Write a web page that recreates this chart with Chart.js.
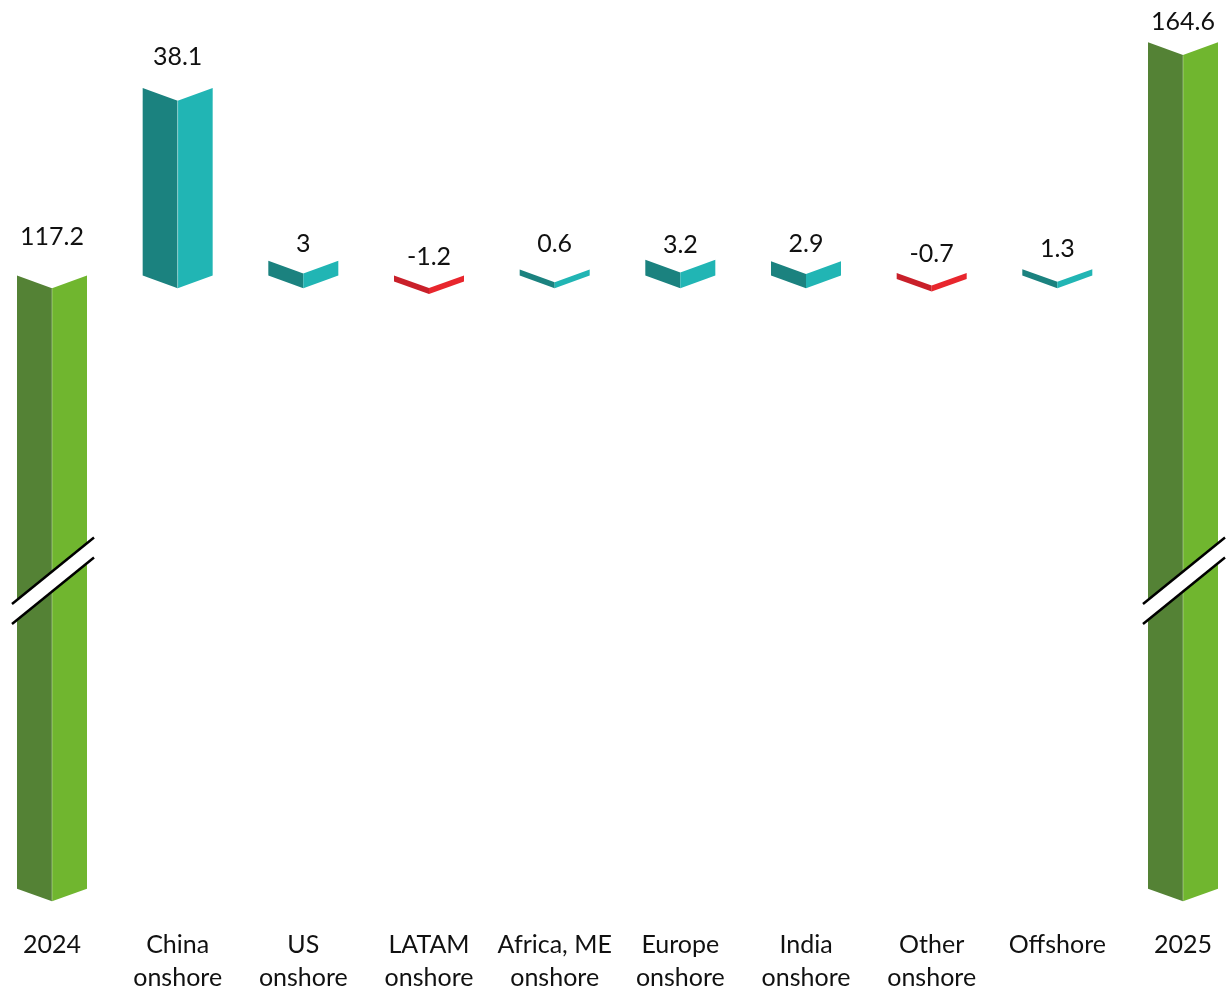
<!DOCTYPE html>
<html>
<head>
<meta charset="utf-8">
<script src="https://cdn.jsdelivr.net/npm/chart.js@4.4.1/dist/chart.umd.min.js"></script>
<style>
  html, body { margin: 0; padding: 0; background: #ffffff; }
  #wrap { width: 1226px; height: 991px; position: relative; }
</style>
</head>
<body>
<div id="wrap"><canvas id="chart"></canvas></div>
<script>
// ---------- data ----------
const categories = [
  ['2024'], ['China', 'onshore'], ['US', 'onshore'], ['LATAM', 'onshore'],
  ['Africa, ME', 'onshore'], ['Europe', 'onshore'], ['India', 'onshore'],
  ['Other', 'onshore'], ['Offshore'], ['2025']
];
const startTotal = 117.2;
const changes = [38.1, 3, -1.2, 0.6, 3.2, 2.9, -0.7, 1.3];
const endTotal = 164.6;

// ---------- axis settings (broken value axis) ----------
const Y_MIN = -15.4;
const Y_MAX = 173.2;
const AXIS_FLOOR = -7.4;   // where the (broken) total bars start
const BREAK_AT = 55;       // value where the break marks sit

// ---------- styles ----------
const FACE_COLORS = {
  total: ['#548235', '#70b62f'],
  up:    ['#1b827f', '#21b5b4'],
  down:  ['#c9202a', '#e8262d']
};
const LABEL_LIFT = [39, 31, 17, 19, 26, 15, 17, 19, 20, 20];
const FONT = 'Lato, "Open Sans", sans-serif';

// ---------- build floating bars ----------
const barData = [];
const kinds = [];
const values = [];
barData.push([AXIS_FLOOR, startTotal]); kinds.push('total'); values.push(startTotal);
changes.forEach(c => {
  barData.push([startTotal, +(startTotal + c).toFixed(2)]);
  kinds.push(c >= 0 ? 'up' : 'down');
  values.push(c);
});
barData.push([AXIS_FLOOR, endTotal]); kinds.push('total'); values.push(endTotal);

// ---------- custom 3D chevron bar drawing ----------
const chevronBars = {
  id: 'chevronBars',
  beforeDatasetDraw(chart, args) {
    const ctx = chart.ctx;
    args.meta.data.forEach((bar, i) => {
      const p = bar.getProps(['x', 'y', 'base', 'width'], true);
      const top = Math.min(p.y, p.base);
      const bot = Math.max(p.y, p.base);
      const l = p.x - p.width / 2, r = p.x + p.width / 2, m = p.x;
      const d = p.width * 0.18;
      const [dark, light] = FACE_COLORS[kinds[i]];
      ctx.save();
      ctx.beginPath();
      ctx.moveTo(l, top); ctx.lineTo(m, top + d); ctx.lineTo(m, bot + d); ctx.lineTo(l, bot);
      ctx.closePath();
      ctx.fillStyle = dark; ctx.fill();
      ctx.beginPath();
      ctx.moveTo(m, top + d); ctx.lineTo(r, top); ctx.lineTo(r, bot); ctx.lineTo(m, bot + d);
      ctx.closePath();
      ctx.fillStyle = light; ctx.fill();
      if (bot - top > 20) {
        ctx.beginPath();
        ctx.moveTo(m, top + d + 0.5); ctx.lineTo(m, bot + d - 0.5);
        ctx.strokeStyle = 'rgba(255,255,255,0.35)'; ctx.lineWidth = 1; ctx.stroke();
      }
      ctx.restore();
    });
    return false;
  },
  afterDatasetsDraw(chart) {
    const ctx = chart.ctx;
    const yScale = chart.scales.y;
    const meta = chart.getDatasetMeta(0);
    ctx.save();
    // break marks on the total bars
    meta.data.forEach((bar, i) => {
      if (kinds[i] !== 'total') return;
      const cx = bar.x;
      const yc = yScale.getPixelForValue(BREAK_AT);
      const x0 = cx - 40, x1 = cx + 42;
      const s = 0.81, gap = 10;
      const yu = x => yc - gap - s * (x - cx);
      const yl = x => yc + gap - s * (x - cx);
      ctx.beginPath();
      ctx.moveTo(x0, yu(x0)); ctx.lineTo(x1, yu(x1)); ctx.lineTo(x1, yl(x1)); ctx.lineTo(x0, yl(x0));
      ctx.closePath();
      ctx.fillStyle = '#ffffff'; ctx.fill();
      ctx.strokeStyle = '#000000'; ctx.lineWidth = 2.5; ctx.lineCap = 'butt';
      ctx.beginPath(); ctx.moveTo(x0, yu(x0)); ctx.lineTo(x1, yu(x1)); ctx.stroke();
      ctx.beginPath(); ctx.moveTo(x0, yl(x0)); ctx.lineTo(x1, yl(x1)); ctx.stroke();
    });
    // value labels
    ctx.fillStyle = '#111111';
    ctx.font = '25px ' + FONT;
    ctx.textAlign = 'center';
    ctx.textBaseline = 'middle';
    meta.data.forEach((bar, i) => {
      const top = Math.min(bar.y, bar.base);
      ctx.fillText(String(values[i]), bar.x, top - LABEL_LIFT[i]);
    });
    ctx.restore();
  }
};

new Chart(document.getElementById('chart'), {
  type: 'bar',
  data: {
    labels: categories,
    datasets: [{
      data: barData,
      backgroundColor: kinds.map(k => FACE_COLORS[k][1]),
      barPercentage: 0.557,
      categoryPercentage: 1,
      minBarLength: 6,
      clip: false
    }]
  },
  options: {
    responsive: true,
    maintainAspectRatio: false,
    animation: false,
    devicePixelRatio: 1,
    layout: { padding: { left: 52, right: 43, top: 0, bottom: -3 } },
    plugins: { legend: { display: false }, tooltip: { enabled: false } },
    scales: {
      x: {
        offset: false,
        grid: { display: false, drawTicks: false },
        border: { display: false },
        ticks: {
          padding: 0,
          color: '#111111',
          maxRotation: 0,
          autoSkip: false,
          font: { family: FONT, size: 25, lineHeight: '33px' }
        }
      },
      y: {
        display: false,
        min: Y_MIN,
        max: Y_MAX
      }
    }
  },
  plugins: [chevronBars]
});
</script>
</body>
</html>
